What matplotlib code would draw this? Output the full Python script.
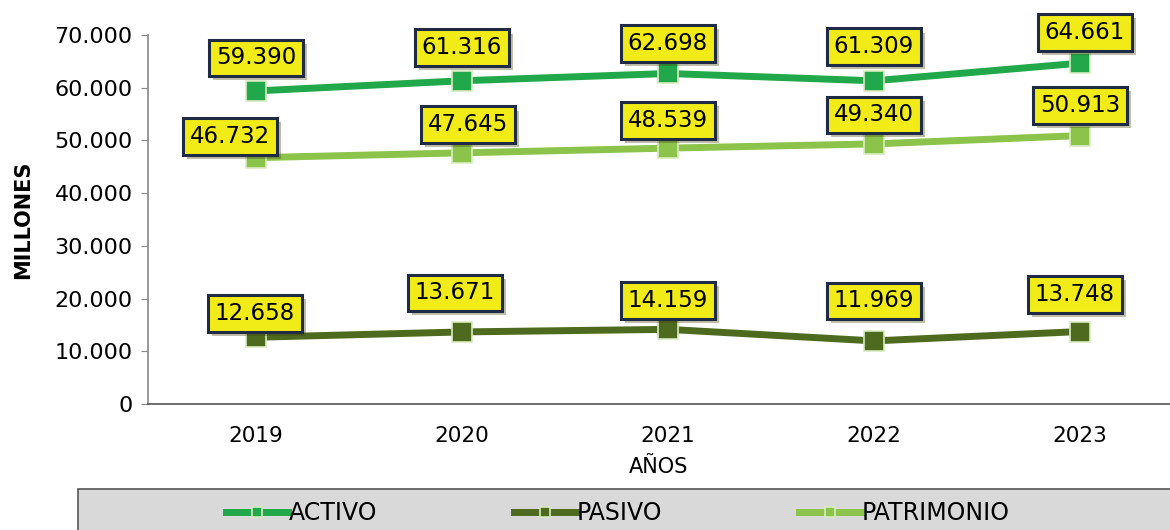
import numpy as np
import matplotlib.pyplot as plt
import matplotlib.patheffects as pe
from matplotlib.patches import Rectangle

years = ['2019', '2020', '2021', '2022', '2023']
activo = [59390, 61316, 62698, 61309, 64661]
pasivo = [12658, 13671, 14159, 11969, 13748]
patrimonio = [46732, 47645, 48539, 49340, 50913]

# label offsets in pixels (dx, dy) from point
off_activo = [(0, 33), (0, 33), (0, 30), (0, 34), (5, 31)]
off_pasivo = [(-1, 24), (-7, 39), (0, 29), (0, 40), (-5, 37)]
off_patri = [(-26, 21), (6, 28), (0, 28), (0, 29), (0, 30)]

plt.rcParams['font.family'] = ['DejaVu Sans']

fig = plt.figure(figsize=(11.7, 5.3), dpi=100)
ax = fig.add_axes([148/1170, 126/530, 1 - 148/1170, 369/530])

x = np.arange(len(years))
series = [('ACTIVO', activo, '#21a84a', off_activo),
          ('PASIVO', pasivo, '#4d6a1e', off_pasivo),
          ('PATRIMONIO', patrimonio, '#8cc34b', off_patri)]

for name, vals, col, offs in series:
    ax.plot(x, vals, color=col, lw=5, marker='s', ms=14,
            mfc=col, mec='#d8ecc0', mew=1.2, label=name, zorder=3)
    for xi, v, (dx, dy) in zip(x, vals, offs):
        lab = f'{v:,}'.replace(',', '.')
        t = ax.annotate(lab, (xi, v), xytext=(dx*0.72, dy*0.72), textcoords='offset points',
                        ha='center', va='center', fontsize=16.5, color='black',
                        bbox=dict(boxstyle='square,pad=0.3', fc='#f1ec17', ec='#1f2b45', lw=2.2),
                        zorder=5)
        t.get_bbox_patch().set_path_effects([pe.SimplePatchShadow(offset=(3, -3), alpha=0.35),
                                             pe.Normal()])

ax.set_xlim(-0.524, 4.437)
ax.set_ylim(0, 70000)
ax.set_yticks(np.arange(0, 70001, 10000))
ax.set_yticklabels([f'{t:,}'.replace(',', '.') for t in range(0, 70001, 10000)], fontsize=16)
ax.set_xticks(x)
ax.set_xticklabels(years, fontsize=15.5)
ax.tick_params(axis='x', length=0, pad=16)
ax.tick_params(axis='y', length=5, color='#888888', pad=6)
for s in ['top', 'right']:
    ax.spines[s].set_visible(False)
ax.spines['left'].set_color('#888888')
ax.spines['left'].set_linewidth(1.2)
ax.spines['bottom'].set_color('#555555')
ax.spines['bottom'].set_linewidth(1.2)
ax.set_ylabel('MILLONES', fontsize=15, fontweight='bold')
ax.yaxis.set_label_coords((33 - 148) / 1022, 0.5)
ax.set_xlabel('AÑOS', fontsize=15, labelpad=8)

fig.patches.append(Rectangle((78/1170, -0.01), 1.0, 41/530 + 0.01, transform=fig.transFigure,
                             fc='#d9d9d9', ec='#555555', lw=1.2, zorder=0))
fig.legend(loc='center', bbox_to_anchor=(618/1170, 17/530), ncol=3, frameon=False,
           prop={'family': 'Liberation Sans Narrow', 'size': 17}, handlelength=2.6,
           handletextpad=0.05, columnspacing=5.8, markerscale=0.55)

fig.savefig('out.png', dpi=100)
